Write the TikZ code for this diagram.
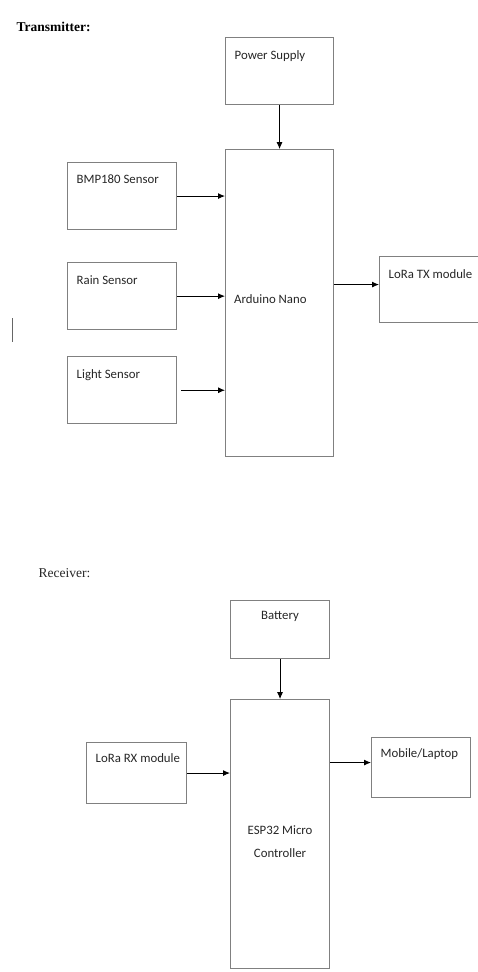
\documentclass[tikz,border=0pt]{standalone}
\usepackage{fontspec}
\setmainfont{Carlito}
\newfontfamily\titlefont{Liberation Serif}
\usetikzlibrary{positioning, arrows.meta}

\begin{document}
\begin{tikzpicture}[
        x=1pt, y=-1pt,
        node distance=32pt and 46pt,
        box/.style={rectangle, draw=black!50, line width=1.1pt, minimum width=99pt, minimum height=67pt, inner sep=0pt},
        sensor/.style={box, minimum width=109pt},
        boxtxt/.style={inner sep=0pt, font=\fontsize{12.8}{15}\selectfont, text=black!85},
        corner/.style={boxtxt, anchor=north west, xshift=9.5pt, yshift=-13pt},
        arrow/.style={-{Latex[length=7pt, width=6pt]}, line width=0.9pt},
        title/.style={anchor=base west, font=\titlefont\fontsize{13.5}{16}\selectfont}
    ]
    \useasboundingbox (0,0) rectangle (478,972);

        % Transmitter
        \node (tx_title) [title, font=\titlefont\bfseries\fontsize{13.5}{16}\selectfont] at (13,31) {Transmitter:};
        \node (pwr) [box, minimum width=108pt, anchor=north west, label={[corner]north west:Power Supply}] at (225,37) {};
        \node (ard) [box, minimum width=108pt, minimum height=307pt, below=44pt of pwr,
            label={[boxtxt, anchor=west, xshift=9pt, yshift=4pt]west:Arduino Nano}] {};

        \node (bmp) [sensor, anchor=north west, label={[corner]north west:BMP180 Sensor}] at (67,162) {};
        \node (rain) [sensor, below=32pt of bmp, label={[corner]north west:Rain Sensor}] {};
        \node (light) [sensor, below=26pt of rain, label={[corner]north west:Light Sensor}] {};

        \node (ltx) [box, minimum width=110pt, minimum height=66pt, anchor=north west,
            label={[corner]north west:LoRa TX module}] at (379,256) {};
        \coordinate (ltx_in) at ([yshift=5pt]ltx.west);

        % cursor mark at the left
        \draw[line width=1.3pt, black!60] (12.5,318) -- (12.5,342);

        % Draw arrows
        \draw [arrow] (pwr) -- (ard);
        \draw [arrow] (bmp.east) -- (bmp.east -| ard.west);
        \draw [arrow] (rain.east) -- (rain.east -| ard.west);
        \draw [arrow] ([xshift=4pt]light.east) -- (light.east -| ard.west);
        \draw [arrow] (ard.east |- ltx_in) -- (ltx_in);

        % Receiver
        \node (rx_title) [title, text=black!85] at (35,577) {Receiver:};
        \node (bat) [box, minimum height=58pt, anchor=north west,
            label={[boxtxt, anchor=north, yshift=-11pt]north:Battery}] at (230,600) {};
        \node (esp) [box, minimum height=269pt, below=40pt of bat,
            label={[boxtxt, anchor=north, align=center, yshift=-126pt, font=\fontsize{12.8}{23}\selectfont]north:ESP32 Micro\\Controller}] {};

        \node (lrx) [box, minimum width=100pt, minimum height=61pt, anchor=north west,
            label={[corner, yshift=2pt]north west:LoRa RX module}] at (86,742) {};
        \node (mob) [box, minimum height=60pt, anchor=north west,
            label={[corner, yshift=2pt]north west:Mobile/Laptop}] at (371,737) {};
        \coordinate (mob_in) at ([yshift=5pt]mob.west);

        \draw [arrow] (bat) -- (esp);
        \draw [arrow] (lrx.east) -- (lrx.east -| esp.west);
        \draw [arrow] (esp.east |- mob_in) -- (mob_in);
    \end{tikzpicture}
\end{document}
